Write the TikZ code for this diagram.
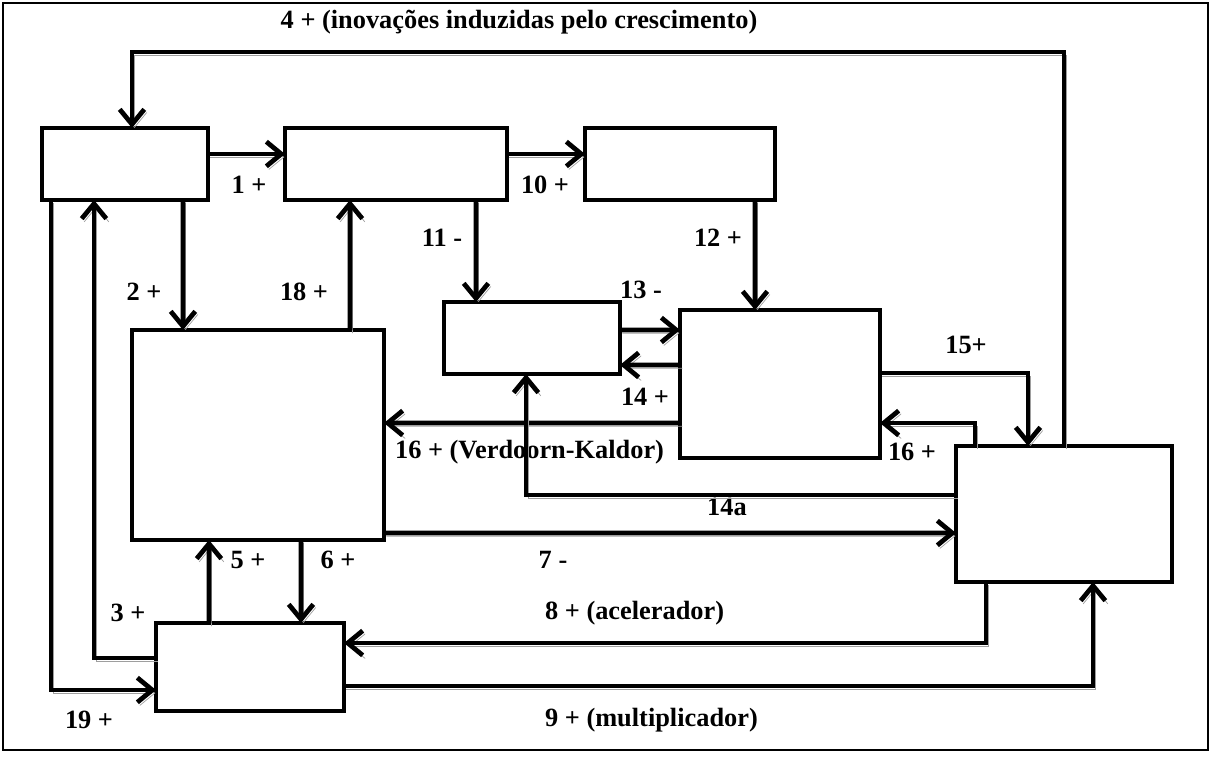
\documentclass[tikz,border=0pt]{standalone}
\usepackage{fontspec}
\setmainfont{Liberation Serif}
\usetikzlibrary{arrows.meta,positioning}

\begin{document}
\begin{tikzpicture}[
  x=0.2mm, y=-0.2mm,
  blk/.style={draw, line width=2.7pt, inner sep=0pt, outer sep=0pt},
  arr/.style={-{Straight Barb[length=8.5pt,width=14pt]}, line width=2.7pt,
    preaction={draw=black!38, transform canvas={shift={(1.4pt,-1.8pt)}}}},
  lbl/.style={font=\fontsize{15}{18}\selectfont\bfseries, inner sep=1pt},
  frame/.style={draw, line width=1.2pt}
]
\useasboundingbox (0,0) rectangle (1216,756);

% Outer frame
\draw[frame] (3,3) rectangle (1208,750);

% Boxes (top row)
\node[blk, minimum width=33.2mm, minimum height=14.4mm] (topleft) at (125,164) {};
\node[blk, minimum width=44.4mm, minimum height=14.4mm] (topmid) at (396,164) {};
\node[blk, minimum width=38mm, minimum height=14.4mm] (topright) at (680,164) {};

% Boxes (middle)
\node[blk, minimum width=35.2mm, minimum height=14.4mm] (midbox) at (532,338) {};
\node[blk, minimum width=40mm, minimum height=29.6mm] (midright) at (780,384) {};
\node[blk, minimum width=50.4mm, minimum height=42mm] (bigleft) at (258,435) {};
\node[blk, minimum width=43.2mm, minimum height=27.2mm] (farright) at (1064,514) {};

% Box (bottom)
\node[blk, minimum width=37.6mm, minimum height=17.6mm] (bottom) at (250,667) {};

% Labels
\node[lbl] (l4) at (519,22) {4 + (inovações induzidas pelo crescimento)};
\node[lbl] (l1) at (249,185) {1 +};
\node[lbl] (l10) at (545,185) {10 +};
\node[lbl] (l2) at (144,292) {2 +};
\node[lbl] (l18) at (304,292) {18 +};
\node[lbl] (l11) at (442,238) {11 -};
\node[lbl] (l12) at (718,238) {12 +};
\node[lbl] (l13) at (641,290) {13 -};
\node[lbl] (l14) at (645,397) {14 +};
\node[lbl] (l15) at (966,345) {15+};
\node[lbl, anchor=west] (l16vk) at (393,452) {16 + (Verdoorn-Kaldor)};
\node[lbl] (l16) at (912,452) {16 +};
\node[lbl] (l14a) at (727,507) {14a};
\node[lbl] (l7) at (553,560) {7 -};
\node[lbl] (l5) at (248,560) {5 +};
\node[lbl] (l6) at (338,560) {6 +};
\node[lbl] (l3) at (128,613) {3 +};
\node[lbl] (l19) at (89,720) {19 +};
\node[lbl, anchor=west] (l8) at (543,613) {8 + (acelerador)};
\node[lbl, anchor=west] (l9) at (543,720) {9 + (multiplicador)};

% Top row arrows
\draw[arr] ([yshift=2mm]topleft.east) -- ([yshift=2mm]topmid.west);
\draw[arr] ([yshift=2mm]topmid.east) -- ([yshift=2mm]topright.west);

% Feedback 4 (over the top)
\draw[arr] (farright.north) |- ([xshift=1.4mm,yshift=15.2mm]topleft.north) -- ([xshift=1.4mm]topleft.north);

% Downward / upward links between rows
\draw[arr] ([xshift=11.6mm]topleft.south) -- ([xshift=-15mm]bigleft.north);
\draw[arr] ([xshift=18.4mm]bigleft.north) -- ([xshift=-9.2mm]topmid.south);
\draw[arr] ([xshift=16mm]topmid.south) -- ([xshift=-11.2mm]midbox.north);
\draw[arr] ([xshift=15mm]topright.south) -- ([xshift=-5mm]midright.north);

% Middle links
\draw[arr] ([yshift=1.6mm]midbox.east) -- ([yshift=10.8mm]midright.west);
\draw[arr] ([yshift=3.8mm]midright.west) -- ([yshift=-5.4mm]midbox.east);
\draw[arr] ([yshift=2.2mm]midright.east) -| ([xshift=-7.2mm]farright.north);
\draw[arr] ([yshift=-7.8mm]midright.west) -- ([yshift=2.4mm]bigleft.east);
\draw[arr] ([xshift=-17.8mm]farright.north) |- ([yshift=-7.8mm]midright.east);
\draw[arr] ([yshift=3.8mm]farright.west) -| ([xshift=-1.2mm]midbox.south);
\draw[arr] ([yshift=-19.6mm]bigleft.east) -- ([yshift=-3.8mm]farright.west);

% Bottom links
\draw[arr] ([xshift=-8.2mm]bottom.north) -- ([xshift=-9.8mm]bigleft.south);
\draw[arr] ([xshift=8.6mm]bigleft.south) -- ([xshift=10.2mm]bottom.north);
\draw[arr] ([yshift=1.8mm]bottom.west) -| ([xshift=-6.2mm]topleft.south);
\draw[arr] ([xshift=-14.8mm]topleft.south) |- ([yshift=-4.6mm]bottom.west);
\draw[arr] ([xshift=-15.6mm]farright.south) |- ([yshift=4.8mm]bottom.east);
\draw[arr] ([yshift=-3.8mm]bottom.east) -| ([xshift=5.8mm]farright.south);

\end{tikzpicture}
\end{document}
